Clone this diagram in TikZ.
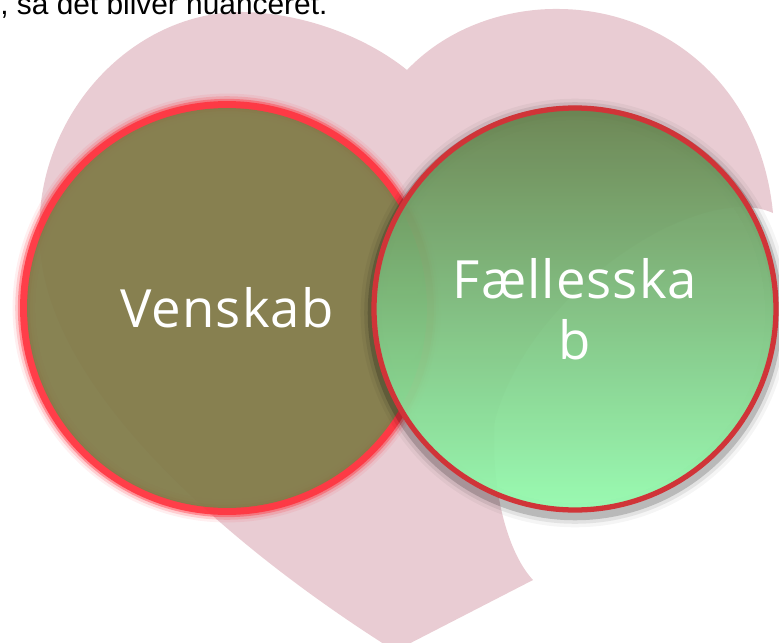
\documentclass[tikz,border=0pt]{standalone}
\usepackage{fontspec}
\newfontfamily\circlefont[LetterSpace=2]{Open Sans}
\newfontfamily\notefont{Liberation Sans}
\usepackage{tikz}

\definecolor{heartpink}{RGB}{233,204,211}
\definecolor{venskabolive}{RGB}{130,124,74}
\definecolor{glowred}{RGB}{255,48,60}
\definecolor{ringred}{RGB}{208,52,56}
\definecolor{greentop}{RGB}{104,132,80}
\definecolor{greenmid}{RGB}{108,178,114}
\definecolor{greenbot}{RGB}{148,250,174}

\begin{document}
\begin{tikzpicture}[x=0.02cm, y=-0.02cm,
    every node/.style={text=white, font=\circlefont\fontsize{30}{35}\selectfont, align=center},
    bubble/.style={circle, minimum size=8cm, inner sep=0pt, fill opacity=0.95, text opacity=1}]
    \useasboundingbox (0,0) rectangle (779,643);
    \clip (0,0) rectangle (779,643);

    % heart in the back
    \fill[heartpink] (395,651) .. controls (250,560) and (50,400) .. (40,247)
        .. controls (30,120) and (130,10) .. (245,12)
        .. controls (310,14) and (370,40) .. (407,70)
        .. controls (450,25) and (510,8) .. (560,9)
        .. controls (660,10) and (760,80) .. (773,213)
        .. controls (700,180) and (530,290) .. (495,420)
        .. controls (490,480) and (505,550) .. (533,580)
        -- cycle;

    \node[text=black, font=\notefont\fontsize{17}{20}\selectfont, anchor=base west, inner sep=0pt] (note) at (0,14) {, så det bliver nuanceret.};

    \coordinate (vc) at (227,308);
    \coordinate (fc) at (575,309);

    % red glow round the left circle
    \foreach \w/\o in {13pt/0.08, 10pt/0.18, 7pt/0.4, 4.5pt/0.85}
        \draw[glowred, line width=\w, draw opacity=\o] (vc) circle [radius=203];
    \node[bubble, fill=venskabolive] (venskab) at (vc) {Venskab};

    % shadow and ring of the right circle
    \foreach \w/\o in {14pt/0.04, 10pt/0.08, 6pt/0.18}
        \draw[black, line width=\w, draw opacity=\o] ([yshift=-0.08cm]fc) circle [radius=202];
    \node[bubble, top color=greentop, middle color=greenmid, bottom color=greenbot] (faellesskab) at (fc) {Fællesska\\b};
    \draw[ringred, line width=3pt] (fc) circle [radius=201];
\end{tikzpicture}
\end{document}
